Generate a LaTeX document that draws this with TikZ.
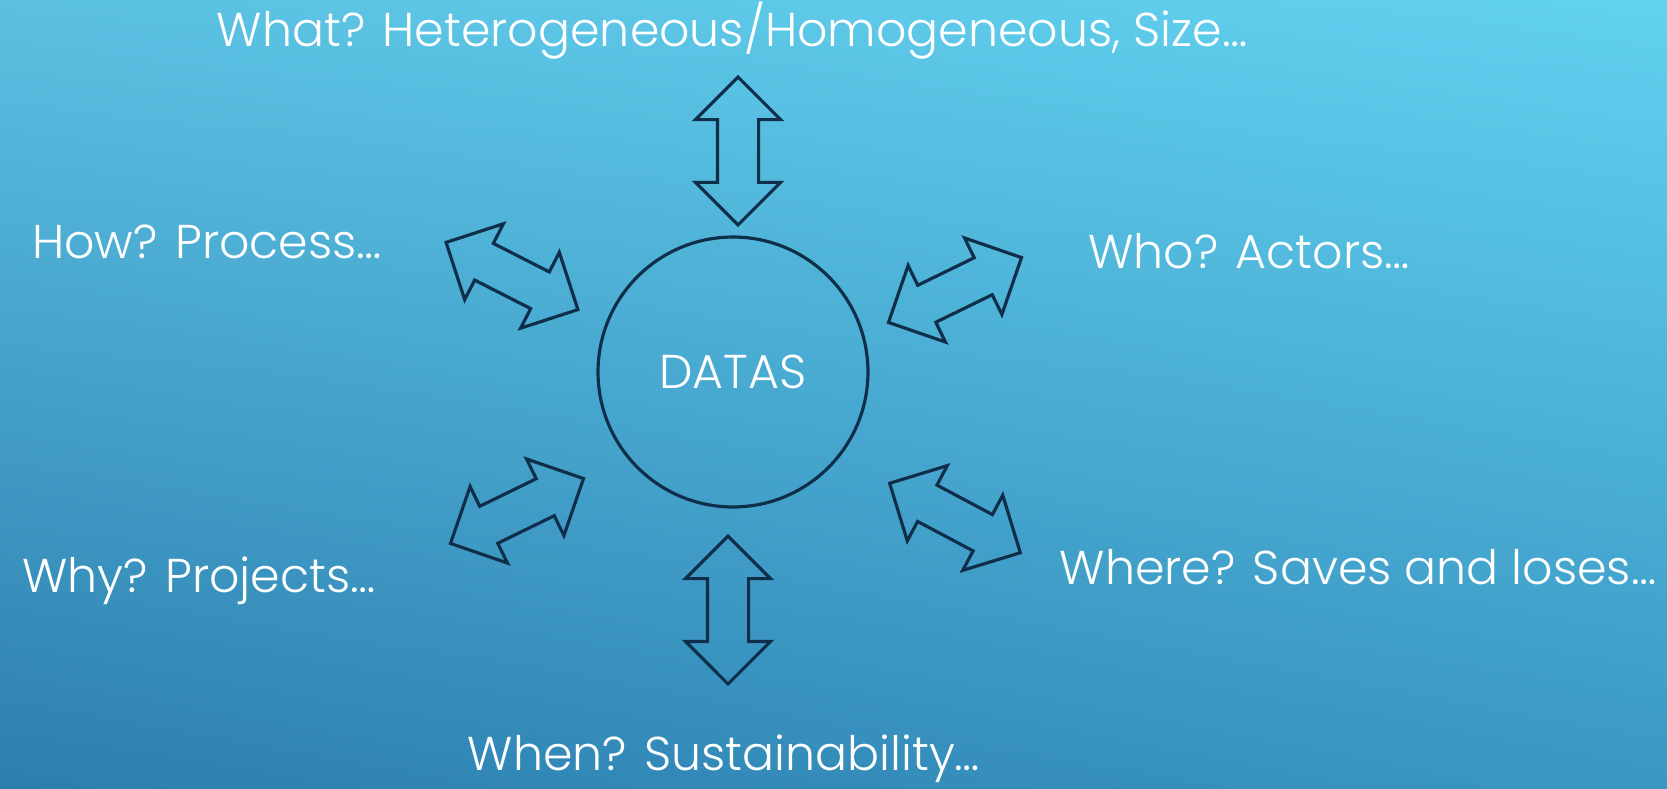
\documentclass[tikz,border=0pt]{standalone}
\usepackage{fontspec}
\setmainfont{Poppins Light}
\usepackage{xcolor}
\usepackage{tikz}
\definecolor{datasnavy}{RGB}{14, 46, 74}
\definecolor{skytl}{RGB}{91, 192, 226}
\definecolor{skytr}{RGB}{97, 210, 240}
\definecolor{skybl}{RGB}{44, 126, 174}
\definecolor{skybr}{RGB}{58, 151, 195}
\usetikzlibrary{shapes.arrows,shadings,positioning}

\begin{document}
\begin{tikzpicture}[x=0.02cm, y=-0.02cm,
    question/.style={font=\fontsize{27}{31}\selectfont, text=white, anchor=base, inner sep=0pt},
    dblarrow/.style={double arrow, draw=datasnavy, line width=1.8pt, inner sep=0.38cm,
        double arrow head extend=0.44cm, minimum height=2.96cm}]
    % Background
    \shade[upper left=skytl, upper right=skytr, lower left=skybl, lower right=skybr]
        (0, 0) rectangle (1667, 788);

    % Centre
    \node[circle, draw=datasnavy, line width=1.8pt, minimum size=5.4cm, inner sep=0pt,
        font=\fontsize{27}{31}\selectfont, text=white] (datas) at (733, 372) {DATAS};

    % Questions
    \node[question] (what) at (732, 46) {What? Heterogeneous/Homogeneous, Size…};
    \node[question] (how) at (207, 258) {How? Process…};
    \node[question] (who) at (1249, 268) {Who? Actors…};
    \node[question] (where) at (1358, 584) {Where? Saves and loses…};
    \node[question] (why) at (199, 592) {Why? Projects…};
    \node[question] (when) at (724, 770) {When? Sustainability…};

    % Double arrows
    \node[dblarrow, rotate=90] (arrwhat) at (738, 151) {};
    \node[dblarrow, rotate=-27] (arrhow) at (512, 276) {};
    \node[dblarrow, rotate=26] (arrwho) at (955, 290) {};
    \node[dblarrow, rotate=26] (arrwhy) at (517, 511) {};
    \node[dblarrow, rotate=-28] (arrwhere) at (955, 518) {};
    \node[dblarrow, rotate=90] (arrwhen) at (728, 610) {};
\end{tikzpicture}
\end{document}
